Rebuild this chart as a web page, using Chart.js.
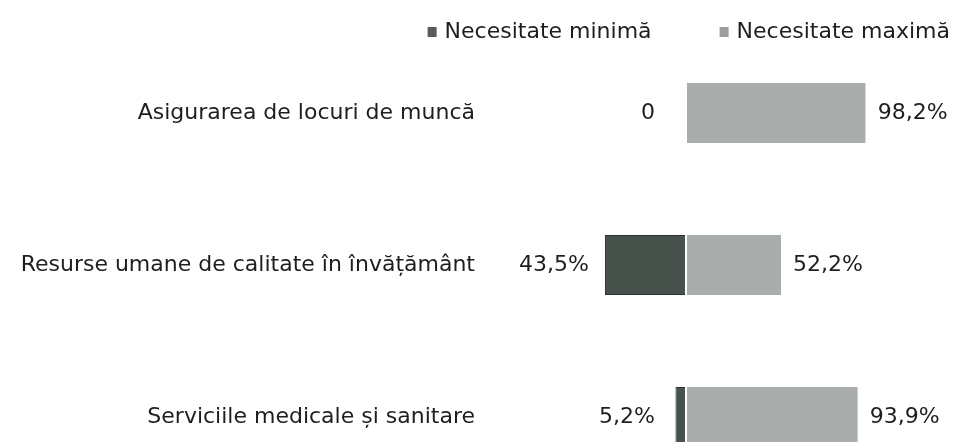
<!DOCTYPE html>
<html><head><meta charset="utf-8">
<script src="https://cdn.jsdelivr.net/npm/chart.js@4.4.0/dist/chart.umd.min.js"></script>
<style>
html,body{margin:0;padding:0;background:#fff;overflow:hidden}
canvas{display:block}
</style></head>
<body><canvas id="c" width="957" height="493"></canvas>
<script>
const categories = ["Asigurarea de locuri de muncă", "Resurse umane de calitate în învățământ", "Serviciile medicale și sanitare"];
const seriesNames = ["Necesitate minimă", "Necesitate maximă"];
const minValues = [0, 43.5, 5.2];
const maxValues = [98.2, 52.2, 93.9];

const FONT_FAMILY = '"DejaVu Sans", Verdana, sans-serif';
const FONT_SIZE = 22;
const TEXT_COLOR = '#1e1e1e';
const DARK = '#46514c';
const LIGHT = '#a9adac';

function fmt(v) {
  return v === 0 ? '0' : v.toFixed(1).replace('.', ',') + '%';
}

const valueLabels = {
  id: 'valueLabels',
  afterDatasetsDraw(chart) {
    const ctx = chart.ctx;
    ctx.save();
    ctx.font = FONT_SIZE + 'px ' + FONT_FAMILY;
    ctx.fillStyle = TEXT_COLOR;
    ctx.textBaseline = 'middle';
    const m0 = chart.getDatasetMeta(0);
    m0.data.forEach((el, i) => {
      const x = Math.min(el.x - 16, el.base - 30);
      ctx.textAlign = 'right';
      ctx.fillText(fmt(minValues[i]), x, el.y);
    });
    const m1 = chart.getDatasetMeta(1);
    m1.data.forEach((el, i) => {
      ctx.textAlign = 'left';
      ctx.fillText(fmt(maxValues[i]), el.x + 12, el.y);
    });
    ctx.restore();
  }
};

const topLegend = {
  id: 'topLegend',
  afterDraw(chart) {
    const ctx = chart.ctx;
    ctx.save();
    ctx.font = FONT_SIZE + 'px ' + FONT_FAMILY;
    ctx.textBaseline = 'middle';
    const cy = 32;
    const rightEnd = 950;
    const boxW = 9, boxH = 10, boxGap = 8, itemGap = 68;
    let x = rightEnd;
    const items = chart.data.datasets.map(d => ({ text: d.label, color: d.legendColor }));
    for (let i = items.length - 1; i >= 0; i--) {
      const w = ctx.measureText(items[i].text).width;
      const tx = x - w;
      ctx.fillStyle = TEXT_COLOR;
      ctx.textAlign = 'left';
      ctx.fillText(items[i].text, tx, cy);
      ctx.fillStyle = items[i].color;
      ctx.fillRect(tx - boxGap - boxW, cy - boxH / 2, boxW, boxH);
      x = tx - boxGap - boxW - itemGap;
    }
    ctx.restore();
  }
};

new Chart(document.getElementById('c'), {
  type: 'bar',
  data: {
    labels: categories,
    datasets: [
      {
        label: seriesNames[0],
        data: minValues.map(v => -v),
        backgroundColor: DARK,
        legendColor: '#555d5a',
        borderColor: '#2b3330',
        borderWidth: 1,
        barPercentage: 0.395,
        categoryPercentage: 1
      },
      {
        label: seriesNames[1],
        data: maxValues,
        backgroundColor: LIGHT,
        legendColor: '#9a9e9d',
        borderColor: '#ffffff',
        borderWidth: { left: 2, top: 0, right: 0, bottom: 0 },
        borderSkipped: false,
        barPercentage: 0.395,
        categoryPercentage: 1
      }
    ]
  },
  options: {
    indexAxis: 'y',
    responsive: false,
    animation: false,
    layout: { padding: { top: 37, right: 88, left: 0, bottom: 0 } },
    plugins: {
      legend: { display: false },
      tooltip: { enabled: false }
    },
    scales: {
      x: {
        stacked: true, min: -100, max: 100, display: false
      },
      y: {
        stacked: true,
        grid: { display: false, drawTicks: false },
        border: { display: false },
        ticks: {
          padding: 26,
          color: TEXT_COLOR,
          font: { family: FONT_FAMILY, size: FONT_SIZE }
        },
        afterFit(scale) {
          scale.width = 501;
          scale.paddingTop = 0;
          scale.paddingBottom = 0;
        }
      }
    }
  },
  plugins: [valueLabels, topLegend]
});
</script>
</body></html>
